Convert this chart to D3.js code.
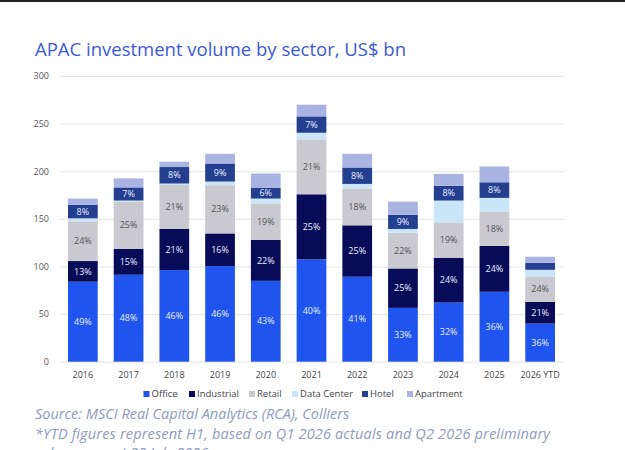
<!DOCTYPE html>
<html><head><meta charset="utf-8">
<script src="https://cdn.jsdelivr.net/npm/d3@7"></script>
<style>body{margin:0;background:#fff}svg{display:block}</style>
</head><body>
<svg id="c" width="625" height="450"></svg>
<script>
const categories = ["2016","2017","2018","2019","2020","2021","2022","2023","2024","2025","2026 YTD"];
const seriesNames = ["Office","Industrial","Retail","Data Center","Hotel","Apartment"];
const office     = [84, 91.3, 96.2, 100.4, 84.9, 107.4, 89.2, 56.5, 62.1, 73.4, 40];
const industrial = [21.7, 27.3, 43.2, 34.3, 42.9, 68.4, 54, 41.4, 47.1, 48.1, 22.8];
const retail     = [41.7, 49.4, 46.1, 50.6, 38.5, 57.6, 38.6, 37.6, 37.1, 36.1, 26.7];
const dataCenter = [3.1, 1.2, 1.6, 3.9, 5, 7, 4.9, 3.9, 22.9, 14.4, 7];
const hotel      = [14.1, 13.8, 17.3, 18.9, 11.5, 17.2, 17.2, 15, 15.4, 16.4, 7.4];
const apartment  = [6.7, 9.5, 5.6, 10.2, 14.8, 12.3, 14.4, 13.7, 12.6, 16.6, 6.3];
const officeLabels     = ["49%","48%","46%","46%","43%","40%","41%","33%","32%","36%","36%"];
const industrialLabels = ["13%","15%","21%","16%","22%","25%","25%","25%","24%","24%","21%"];
const retailLabels     = ["24%","25%","21%","23%","19%","21%","18%","22%","19%","18%","24%"];
const hotelLabels      = ["8%","7%","8%","9%","6%","7%","8%","9%","8%","8%",""];
const yTicks = [0,50,100,150,200,250,300];

const colors = ["#1f55ee","#080c58","#c9c9cf","#c8e6f8","#243f90","#a9b4e2"];
const labelColors = ["#e8edff","#e8edff","#555","", "#e8edff",""];
const seriesValues = [office, industrial, retail, dataCenter, hotel, apartment];
const seriesLabels = [officeLabels, industrialLabels, retailLabels, null, hotelLabels, null];

const svg = d3.select("#c");
const font = "'Open Sans', 'Noto Sans', sans-serif";

svg.append("rect").attr("x",0).attr("y",0).attr("width",625).attr("height",2).attr("fill","#222");

svg.append("text").attr("x",35).attr("y",56).attr("font-family",font).attr("font-size",18.5)
  .attr("fill","#3b5bd4").text("APAC investment volume by sector, US$ bn");

const x = d3.scaleBand().domain(categories).range([60,563]).paddingInner(0.35).paddingOuter(0.175);
const y = d3.scaleLinear().domain([0,300]).range([361.7,76]);

const yAxis = svg.append("g").attr("transform","translate(60,0)")
  .call(d3.axisLeft(y).tickValues(yTicks).tickSize(-504).tickPadding(11));
yAxis.select(".domain").remove();
yAxis.selectAll(".tick line").attr("stroke","#e6e6e6");
yAxis.selectAll(".tick text").attr("font-family",font).attr("font-size",9).attr("fill","#555");

const table = categories.map((c,i)=>{ const o={cat:c}; seriesNames.forEach((s,j)=>o[s]=seriesValues[j][i]); return o; });
const stacked = d3.stack().keys(seriesNames)(table);

stacked.forEach((layer,j)=>{
  const g = svg.append("g");
  g.selectAll("rect").data(layer).join("rect")
    .attr("x",d=>x(d.data.cat)).attr("width",x.bandwidth())
    .attr("y",d=>y(d[1])).attr("height",d=>y(d[0])-y(d[1]))
    .attr("fill",colors[j]);
  if (seriesLabels[j]) {
    g.selectAll("text").data(layer).join("text")
      .attr("x",d=>x(d.data.cat)+x.bandwidth()/2)
      .attr("y",d=>(y(d[0])+y(d[1]))/2)
      .attr("dy","0.35em").attr("text-anchor","middle")
      .attr("font-family",font).attr("font-size",9).attr("fill",labelColors[j])
      .text((d,i)=>seriesLabels[j][i]);
  }
});

const xAxis = svg.append("g").attr("transform","translate(0,361.7)")
  .call(d3.axisBottom(x).tickSize(0).tickPadding(10));
xAxis.select(".domain").remove();
xAxis.selectAll(".tick text").attr("font-family",font).attr("font-size",9).attr("fill","#444");

const legendX = [143.5,189,249,292,362,407];
const lg = svg.append("g");
seriesNames.forEach((s,j)=>{
  lg.append("rect").attr("x",legendX[j]).attr("y",391).attr("width",6).attr("height",6).attr("fill",colors[j]);
  lg.append("text").attr("x",legendX[j]+8).attr("y",394).attr("dy","0.35em")
    .attr("font-family",font).attr("font-size",9.5).attr("fill","#444").text(s);
});

const notes = ["Source: MSCI Real Capital Analytics (RCA), Colliers",
  "*YTD figures represent H1, based on Q1 2026 actuals and Q2 2026 preliminary",
  "volumes, as at 22 July 2026"];
notes.forEach((t,i)=>{
  const tx = svg.append("text").attr("x",35).attr("y",419+i*19.5).attr("font-family",font)
    .attr("font-style","italic").attr("font-size",14.5).attr("fill","#8e9bbd").text(t);
  if (i===1) tx.attr("textLength",515).attr("lengthAdjust","spacing");
});
</script>
</body></html>
